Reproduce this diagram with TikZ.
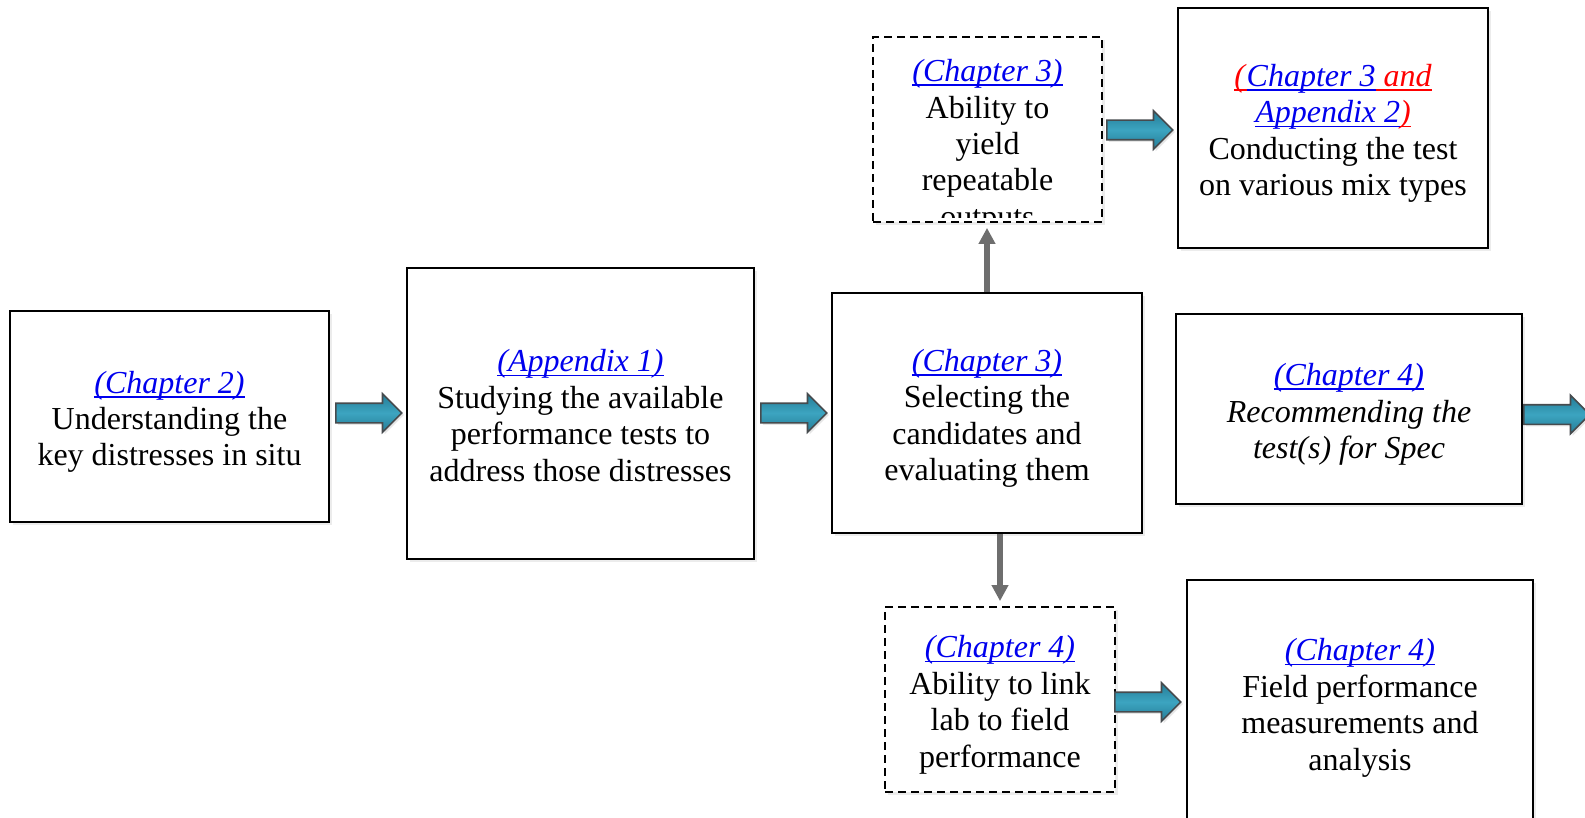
\documentclass[tikz,border=0pt]{standalone}
\usepackage{fontspec}
\setmainfont{Liberation Serif}
\usepackage{xcolor}
\usepackage{tikz}
\usetikzlibrary{arrows.meta,shapes.arrows,shadows}
\definecolor{linkC}{HTML}{0000EE}
\definecolor{noteR}{HTML}{FF0000}
\definecolor{arrowA}{HTML}{247C96}
\definecolor{arrowL}{HTML}{3CA4C0}
\definecolor{arrowE}{HTML}{464B4E}
\definecolor{stemC}{HTML}{6E6E6E}
% underlined italic reference, rule in the text colour
\newcommand{\refline}[1]{\setbox0\hbox{\textit{#1}}\rlap{\rule[-2.2pt]{\wd0}{0.8pt}}\box0}
\newcommand{\chref}[1]{\textcolor{linkC}{\refline{#1}}}
\newcommand{\redref}[1]{\textcolor{noteR}{\refline{#1}}}
\newcommand{\topline}{\rule{0pt}{17.5pt}}
\newcommand{\lblDist}{\topline\chref{(Chapter 2)}\\Understanding the\\key distresses in situ}
\newcommand{\lblTests}{\topline\chref{(Appendix 1)}\\Studying the available\\performance tests to\\address those distresses}
\newcommand{\lblSelect}{\topline\chref{(Chapter 3)}\\Selecting the\\candidates and\\evaluating them}
\newcommand{\lblRepeat}{\topline\chref{(Chapter 3)}\\Ability to\\yield\\repeatable\\outputs}
\newcommand{\lblMixes}{\topline\redref{(}\chref{Chapter 3}\redref{\ and}\\\chref{Appendix 2}\redref{)}\\Conducting the test\\on various mix types}
\newcommand{\lblSpec}{\topline\chref{(Chapter 4)}\\\textit{Recommending the}\\\textit{test(s) for Spec}}
\newcommand{\lblLink}{\topline\chref{(Chapter 4)}\\Ability to link\\lab to field\\performance}
\newcommand{\lblField}{\topline\chref{(Chapter 4)}\\Field performance\\measurements and\\analysis}

\begin{document}
\begin{tikzpicture}[
  x=0.5pt, y=-0.5pt,
  font=\fontsize{16}{18.2}\selectfont,
  txt/.style ={align=center, inner sep=0pt,
               execute at end node={\rule[-4.5pt]{0pt}{0pt}}},
  box/.style ={txt, draw=black, line width=1pt, fill=white,
               drop shadow={shadow xshift=1.5pt, shadow yshift=-1.5pt, opacity=0.15}},
  dbox/.style={box, dash pattern=on 4pt off 2.5pt, line width=0.9pt},
  flow/.style={single arrow, anchor=tail, draw=arrowE, line width=0.8pt,
               top color=arrowA, bottom color=arrowA, middle color=arrowL,
               minimum height=33pt, minimum width=18.5pt, inner xsep=0pt, inner ysep=4.5pt,
               single arrow head extend=4.75pt, single arrow head indent=0pt,
               drop shadow={shadow xshift=1pt, shadow yshift=-1pt, opacity=0.2}},
  link/.style={-{Triangle[length=8pt,width=8pt]}, draw=stemC, line width=3pt},
]
\useasboundingbox (0,0) rectangle (1585,818);

% ---- main row ---------------------------------------------------------------
\node[box, minimum width=159.5pt, minimum height=105.5pt] (dist)   at (169.5,416.5) {\lblDist};
\node[box, minimum width=173.5pt, minimum height=145.5pt] (tests)  at (580.5,413.5) {\lblTests};
\node[box, minimum width=155pt,   minimum height=120pt]   (select) at (987,413)     {\lblSelect};
\node[box, minimum width=173pt,   minimum height=95pt]    (spec)   at (1349,409)    {\lblSpec};

% ---- upper branch -------------------------------------------------------------
\node[dbox, minimum width=114.5pt, minimum height=92.5pt] (yield) at (987.5,129.5) {};
\begin{scope}
  % the last line runs out of the box and is cut off
  \clip ([shift={(2pt,-2pt)}]yield.north west) rectangle ([shift={(-2pt,2.5pt)}]yield.south east);
  \node[txt] (yieldT) at (987.5,141.5) {\lblRepeat};
\end{scope}
\node[box, minimum width=155pt, minimum height=120pt] (mixes) at (1333,128) {\lblMixes};

% ---- lower branch -------------------------------------------------------------
\node[dbox, minimum width=115pt, minimum height=92.5pt] (link)  at (1000,699.5) {\lblLink};
\node[box,  minimum width=173pt, minimum height=122.5pt] (field) at (1360,702.5) {\lblField};

% ---- block arrows, placed by their tails ---------------------------------------
\node[flow] (a1) at (335,413)    {};
\node[flow] (a2) at (760,413)    {};
\node[flow] (a3) at (1106,130)   {};
\node[flow] (a4) at (1114,702)   {};
\node[flow] (a5) at (1523,414.5) {};

% ---- branches out of the selection ---------------------------------------------
\draw[link, shorten >=2.5pt] (select.north) -- (select.north |- yield.south);
\draw[link, shorten >=2.5pt] (select.south -| link.north) -- (link.north);

\end{tikzpicture}
\end{document}
